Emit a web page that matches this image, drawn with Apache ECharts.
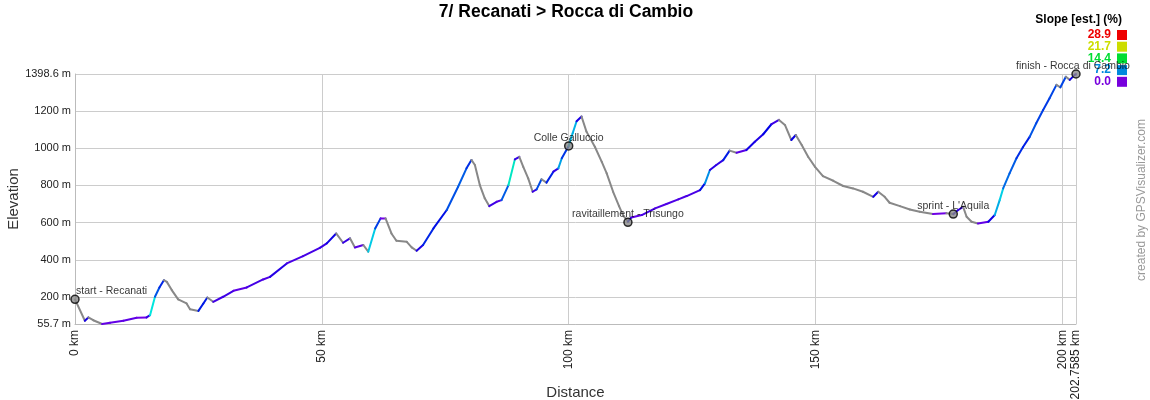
<!DOCTYPE html>
<html>
<head>
<meta charset="utf-8">
<script src="https://cdn.jsdelivr.net/npm/echarts@6/dist/echarts.min.js"></script>
<style>
html,body{margin:0;padding:0;background:#fff;}
#chart{width:1150px;height:400px;}
</style>
</head>
<body>
<div id="chart"></div>
<script>
// ---- data ----
var distKm = [0, 2.0, 2.7, 3.7, 5.5, 7.1, 9.8, 12.5, 14.5, 15.2, 16.2, 17.1, 18.0, 18.6, 19.6, 20.9, 22.6, 23.3, 25.0, 26.0,
  26.8, 28.0, 30.0, 32.1, 34.8, 38.1, 39.5, 42.9, 46.2, 49.6, 51.0, 52.9, 54.3, 55.7, 56.7, 58.4, 59.4, 60.8, 61.9, 62.9,
  64.1, 65.1, 67.2, 68.2, 69.2, 70.5, 72.6, 75.3, 77.6, 79.3, 80.3, 81.0, 82.0, 83.0, 83.9, 85.4, 86.4, 87.8, 89.1, 90.0,
  90.8, 91.8, 92.7, 93.5, 94.5, 95.5, 96.9, 97.9, 98.6, 100.0, 100.8, 101.6, 102.6, 103.6, 105.3, 106.7, 107.7, 109.0, 110.2, 111.0,
  112.0, 112.7, 114.8, 117.5, 119.8, 122.2, 123.9, 126.6, 127.6, 128.6, 129.9, 131.3, 132.6, 134.0, 136.0, 137.7, 139.4, 141.1, 142.6, 143.8,
  145.1, 146.0, 147.2, 148.5, 149.9, 151.5, 153.6, 155.6, 157.6, 159.6, 161.7, 162.7, 164.0, 165.0, 167.1, 169.1, 171.1, 173.8, 176.5, 177.9,
  178.9, 179.9, 180.6, 181.6, 182.9, 185.0, 186.3, 187.3, 188.0, 189.3, 190.7, 192.0, 193.4, 194.7, 196.1, 197.4, 198.8, 199.6, 200.7, 201.5,
  202.5, 202.7585];
var elevM = [188, 73, 91, 76, 55.7, 62, 73, 89, 91, 103, 202, 252, 291, 282, 238, 188, 166, 135, 126, 166,
  198, 175, 202, 234, 252, 295, 309, 381, 420, 465, 489, 542, 492, 516, 467, 480, 444, 569, 623, 623,
  542, 503, 497, 467, 449, 480, 569, 668, 793, 892, 937, 910, 802, 731, 689, 712, 721, 802, 940, 954,
  900, 838, 766, 779, 833, 815, 874, 892, 946, 1012, 1080, 1145, 1170, 1089, 1008, 927, 865, 766, 689, 641,
  605, 628, 641, 677, 700, 725, 743, 775, 811, 883, 910, 936, 987, 976, 990, 1035, 1075, 1130, 1152, 1125,
  1044, 1071, 1017, 954, 900, 850, 825, 797, 784, 766, 739, 766, 739, 707, 689, 671, 659, 646, 650, 646,
  668, 685, 632, 605, 596, 605, 641, 721, 784, 865, 946, 1005, 1062, 1134, 1205, 1268, 1340, 1327, 1384, 1367,
  1394, 1398.6];

var waypointNames = ['start - Recanati', 'Colle Galluccio', 'ravitaillement - Trisungo', "sprint - L'Aquila", 'finish - Rocca di Cambio'];
var waypointKm = [0, 100.0, 112.0, 177.9, 202.7585];
var waypointElev = [188, 1012, 602, 646, 1398.6];

var yTicks = [55.7, 200, 400, 600, 800, 1000, 1200, 1398.6];
var xTicks = [0, 50, 100, 150, 200, 202.7585];
var slopeLegend = [28.9, 21.7, 14.4, 7.2, 0.0];

var titleText = '7/ Recanati > Rocca di Cambio';

// ---- helpers ----
var MAXS = 28.9;
function slopeColor(s) {
  if (s < 0) return '#888888';
  var t = Math.min(s, MAXS) / MAXS;
  var hue = 270 - t * 270;
  return 'hsl(' + hue.toFixed(0) + ',100%,45%)';
}

var segData = [];
for (var i = 0; i < distKm.length - 1; i++) {
  var dx = (distKm[i + 1] - distKm[i]) * 1000;
  var dy = elevM[i + 1] - elevM[i];
  var slope = dx > 0 ? dy / dx * 100 : 0;
  segData.push([distKm[i], elevM[i], distKm[i + 1], elevM[i + 1], slope]);
}

var wpData = waypointNames.map(function (n, i) {
  var item = { name: n, value: [waypointKm[i], waypointElev[i]] };
  if (i === 0) item.label = { align: 'left', offset: [1, 3] };
  if (i === 4) item.label = { offset: [-3, 3] };
  return item;
});

var font = '"Liberation Sans", Arial, sans-serif';
var legendGraphics = [{
  type: 'text', x: 1122, y: 20,
  style: { text: 'Slope [est.] (%)', font: 'bold 12px ' + font, fill: '#000', align: 'right', verticalAlign: 'middle' }
}, {
  type: 'text', x: 566, y: 12,
  style: { text: titleText, font: 'bold 17.5px ' + font, fill: '#000', align: 'center', verticalAlign: 'middle' }
}];
slopeLegend.forEach(function (v, i) {
  var c = v >= 28.9 ? '#ee0000' : v >= 21.7 ? '#ccdd00' : v >= 14.4 ? '#00dd33' : v >= 7.2 ? '#0088dd' : '#7700dd';
  var y = 35 + i * 11.7;
  legendGraphics.push({
    type: 'text', x: 1111, y: y,
    style: { text: v.toFixed(1), font: 'bold 12px ' + font, fill: c, align: 'right', verticalAlign: 'middle' }
  });
  legendGraphics.push({
    type: 'rect', shape: { x: 1117, y: y - 5, width: 10, height: 10 }, style: { fill: c }
  });
});
legendGraphics.push({
  type: 'text', x: 1142, y: 200, rotation: Math.PI / 2,
  style: { text: 'created by GPSVisualizer.com', font: '12px ' + font, fill: '#999', align: 'center', verticalAlign: 'middle' }
});

var chart = echarts.init(document.getElementById('chart'), null, { renderer: 'canvas' });
chart.setOption({
  animation: false,
  backgroundColor: '#fff',
  grid: { left: 75, right: 74, top: 74, bottom: 76, containLabel: false, outerBoundsMode: 'none' },
  xAxis: {
    type: 'value', min: 0, max: 202.7585,
    name: 'Distance', nameLocation: 'middle', nameGap: 61, nameMoveOverlap: false,
    nameTextStyle: { fontFamily: font, fontSize: 15, color: '#333' },
    axisLine: { show: true, lineStyle: { color: '#bbb', width: 1 } },
    axisTick: { show: false, customValues: xTicks },
    axisLabel: {
      customValues: xTicks, rotate: 90, margin: 6, fontFamily: font, fontSize: 12, color: '#222',
      formatter: function (v) { return v + ' km'; }
    },
    splitLine: { show: true, lineStyle: { color: '#ccc', width: 1 } }
  },
  yAxis: {
    type: 'value', min: 55.7, max: 1398.6,
    name: 'Elevation', nameLocation: 'middle', nameGap: 54, nameMoveOverlap: false,
    nameTextStyle: { fontFamily: font, fontSize: 15, color: '#333' },
    axisLine: { show: true, lineStyle: { color: '#bbb', width: 1 } },
    axisTick: { show: false, customValues: yTicks },
    axisLabel: {
      customValues: yTicks, margin: 4, fontFamily: font, fontSize: 11, color: '#222',
      formatter: function (v) { return v + ' m'; }
    },
    splitLine: { show: true, lineStyle: { color: '#ccc', width: 1 } }
  },
  graphic: legendGraphics,
  series: [{
    type: 'custom',
    data: segData,
    encode: { x: [0, 2], y: [1, 3] },
    renderItem: function (params, api) {
      var p0 = api.coord([api.value(0), api.value(1)]);
      var p1 = api.coord([api.value(2), api.value(3)]);
      return {
        type: 'line',
        shape: { x1: p0[0], y1: p0[1], x2: p1[0], y2: p1[1] },
        style: { stroke: slopeColor(api.value(4)), lineWidth: 2, lineCap: 'round' }
      };
    },
    silent: true
  }, {
    type: 'scatter',
    data: wpData,
    symbol: 'circle', symbolSize: 8,
    itemStyle: { color: '#888', borderColor: '#000', borderWidth: 1.5 },
    label: {
      show: true, position: 'top', distance: 1, offset: [0, 3],
      formatter: '{b}', fontFamily: font, fontSize: 10.5, color: '#000'
    },
    silent: true, z: 5
  }]
});
</script>
</body>
</html>
